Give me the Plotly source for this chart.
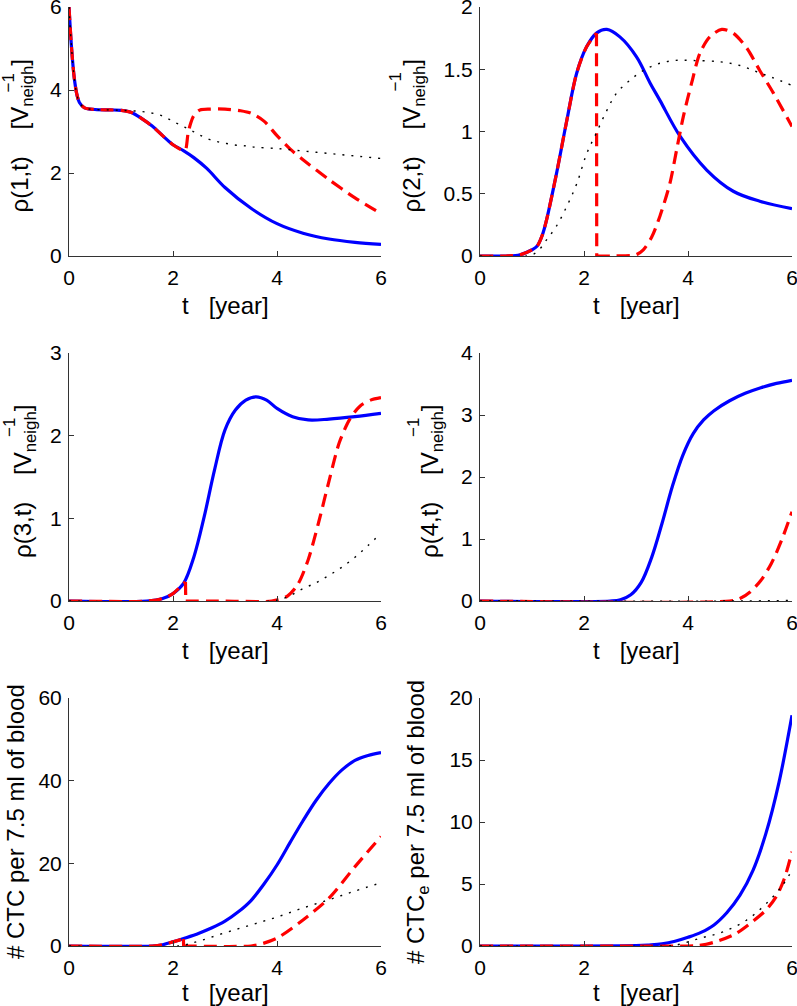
import plotly.graph_objects as go

# ---------------- data ----------------
# Panel 1: rho(1,t)
p1_blue_t = [0, 0.05, 0.1, 0.15, 0.2, 0.3, 0.5, 0.8, 1.0, 1.2, 1.4, 1.6, 1.8, 2.0, 2.2, 2.4, 2.65, 3.0, 3.5, 4.0, 4.5, 5.0, 5.5, 6.0]
p1_blue_v = [6.0, 5.0, 4.3, 3.9, 3.7, 3.57, 3.53, 3.52, 3.51, 3.46, 3.31, 3.13, 2.90, 2.68, 2.54, 2.37, 2.11, 1.65, 1.15, 0.78, 0.55, 0.41, 0.33, 0.28]
p1_red_t = [0, 0.05, 0.1, 0.15, 0.2, 0.3, 0.5, 0.8, 1.0, 1.2, 1.4, 1.6, 1.8, 2.0, 2.2, 2.24, 2.29, 2.34, 2.39, 2.45, 2.52, 2.7, 3.0, 3.3, 3.5, 3.75, 4.0, 4.25, 4.5, 5.0, 5.5, 6.0]
p1_red_v = [6.0, 5.0, 4.3, 3.9, 3.7, 3.57, 3.53, 3.52, 3.51, 3.46, 3.31, 3.13, 2.90, 2.68, 2.54, 2.56, 2.96, 3.20, 3.36, 3.46, 3.52, 3.54, 3.54, 3.50, 3.44, 3.25, 2.90, 2.58, 2.32, 1.84, 1.40, 1.02]
p1_dot_t = [0, 0.05, 0.1, 0.15, 0.2, 0.3, 0.5, 0.8, 1.0, 1.2, 1.4, 1.57, 1.74, 1.89, 2.04, 2.2, 2.36, 2.52, 2.7, 2.87, 3.03, 3.22, 3.42, 3.6, 4.0, 4.5, 5.0, 5.5, 6.0]
p1_dot_v = [6.0, 5.0, 4.3, 3.9, 3.7, 3.57, 3.53, 3.52, 3.51, 3.50, 3.48, 3.45, 3.40, 3.32, 3.22, 3.12, 3.02, 2.91, 2.81, 2.75, 2.71, 2.67, 2.65, 2.62, 2.59, 2.53, 2.47, 2.41, 2.35]

# Panel 2: rho(2,t)
p2_blue_t = [0, 0.5, 0.77, 1.0, 1.1, 1.2, 1.28, 1.47, 1.67, 1.86, 2.05, 2.24, 2.44, 2.69, 3.01, 3.27, 3.46, 3.85, 4.36, 4.87, 5.38, 6.0]
p2_blue_v = [0, 0, 0.01, 0.05, 0.08, 0.17, 0.29, 0.66, 1.09, 1.47, 1.68, 1.79, 1.82, 1.76, 1.60, 1.39, 1.25, 0.96, 0.69, 0.52, 0.44, 0.38]
p2_red_t = [0, 0.5, 0.77, 1.0, 1.1, 1.2, 1.28, 1.47, 1.67, 1.86, 2.05, 2.24, 2.245, 2.6, 3.0, 3.14, 3.3, 3.46, 3.65, 3.78, 3.91, 4.07, 4.23, 4.42, 4.65, 4.87, 5.13, 5.38, 5.64, 6.0]
p2_red_v = [0, 0, 0.01, 0.05, 0.08, 0.17, 0.29, 0.66, 1.09, 1.47, 1.68, 1.79, 0, 0, 0.01, 0.05, 0.15, 0.32, 0.58, 0.85, 1.12, 1.39, 1.63, 1.76, 1.82, 1.79, 1.67, 1.49, 1.31, 1.04]
p2_dot_t = [0, 0.9, 1.09, 1.28, 1.47, 1.67, 1.86, 2.05, 2.24, 2.44, 2.63, 2.88, 3.14, 3.4, 3.72, 4.1, 4.62, 5.0, 5.32, 5.64, 6.0]
p2_dot_v = [0, 0, 0.03, 0.13, 0.24, 0.40, 0.58, 0.82, 0.99, 1.17, 1.31, 1.41, 1.49, 1.54, 1.57, 1.57, 1.56, 1.53, 1.48, 1.43, 1.37]

# Panel 3: rho(3,t)
p3_blue_t = [0, 1.5, 1.8, 2.0, 2.2, 2.4, 2.6, 2.8, 3.0, 3.2, 3.4, 3.6, 3.8, 4.0, 4.3, 4.6, 5.0, 5.5, 6.0]
p3_blue_v = [0, 0, 0.03, 0.09, 0.21, 0.53, 1.02, 1.59, 2.07, 2.31, 2.43, 2.47, 2.43, 2.33, 2.23, 2.19, 2.20, 2.23, 2.27]
p3_red_t = [0, 1.5, 1.8, 2.0, 2.2, 2.24, 2.245, 3.0, 3.9, 4.2, 4.4, 4.6, 4.8, 5.0, 5.2, 5.4, 5.6, 5.8, 6.0]
p3_red_v = [0, 0, 0.03, 0.09, 0.21, 0.23, 0, 0, 0, 0.06, 0.20, 0.50, 0.95, 1.45, 1.92, 2.20, 2.36, 2.43, 2.46]
p3_dot_t = [0, 3.9, 4.2, 4.5, 4.75, 5.0, 5.25, 5.5, 5.75, 6.0]
p3_dot_v = [0, 0, 0.05, 0.15, 0.22, 0.31, 0.41, 0.53, 0.67, 0.82]

# Panel 4: rho(4,t)
p4_blue_t = [0, 2.5, 2.7, 2.9, 3.1, 3.3, 3.5, 3.7, 3.9, 4.1, 4.3, 4.5, 4.8, 5.1, 5.4, 5.7, 6.0]
p4_blue_v = [0, 0, 0.02, 0.1, 0.3, 0.7, 1.25, 1.85, 2.35, 2.7, 2.92, 3.07, 3.23, 3.35, 3.44, 3.51, 3.56]
p4_red_t = [0, 4.8, 5.0, 5.2, 5.4, 5.6, 5.8, 6.0]
p4_red_v = [0, 0, 0.04, 0.15, 0.33, 0.6, 0.98, 1.44]
p4_dot_t = [0, 5.0, 6.0]
p4_dot_v = [0, 0, 0.01]

# Panel 5: # CTC per 7.5 ml of blood
p5_blue_t = [0, 1.6, 1.8, 2.0, 2.25, 2.5, 2.75, 3.0, 3.25, 3.5, 3.75, 4.0, 4.25, 4.5, 4.75, 5.0, 5.25, 5.5, 5.75, 6.0]
p5_blue_v = [0, 0, 0.3, 1.0, 2.0, 3.1, 4.4, 6.0, 8.2, 11.0, 15.0, 19.6, 25.0, 30.3, 35.2, 39.3, 42.6, 44.9, 46.1, 46.8]
p5_red_t = [0, 1.6, 1.8, 2.0, 2.2, 2.205, 3.5, 3.7, 4.0, 4.5, 5.0, 5.5, 6.0]
p5_red_v = [0, 0, 0.3, 1.0, 1.7, 0, 0, 0.5, 1.9, 6.3, 11.6, 19.2, 26.5]
p5_dot_t = [0, 2.1, 2.5, 3.0, 3.5, 4.0, 4.5, 5.0, 5.5, 6.0]
p5_dot_v = [0, 0, 1.2, 3.2, 5.1, 7.0, 9.2, 11.2, 13.3, 15.3]

# Panel 6: # CTC_e per 7.5 ml of blood
p6_blue_t = [0, 3.0, 3.25, 3.5, 3.75, 4.0, 4.25, 4.5, 4.75, 5.0, 5.25, 5.5, 5.75, 6.0]
p6_blue_v = [0, 0.03, 0.08, 0.17, 0.38, 0.7, 1.1, 1.7, 2.7, 4.1, 6.1, 9.1, 13.2, 18.6]
p6_red_t = [0, 3.9, 4.2, 4.5, 4.9, 5.25, 5.5, 5.7, 5.85, 6.0]
p6_red_v = [0, 0, 0.03, 0.3, 0.95, 2.0, 2.9, 4.0, 5.4, 7.6]
p6_dot_t = [0, 3.6, 3.78, 4.23, 4.68, 5.13, 5.51, 5.8, 6.0]
p6_dot_v = [0, 0, 0.08, 0.62, 1.15, 2.1, 3.44, 4.8, 6.1]

x_ticks = [0, 2, 4, 6]
y_ranges = [[0, 6], [0, 2], [0, 3], [0, 4], [0, 60], [0, 20]]
y_ticks = [[0, 2, 4, 6], [0, 0.5, 1, 1.5, 2], [0, 1, 2, 3], [0, 1, 2, 3, 4], [0, 20, 40, 60], [0, 5, 10, 15, 20]]
y_tick_text = [["0", "2", "4", "6"], ["0", "0.5", "1", "1.5", "2"], ["0", "1", "2", "3"],
               ["0", "1", "2", "3", "4"], ["0", "20", "40", "60"], ["0", "5", "10", "15", "20"]]
x_title = "t\u00a0\u00a0\u00a0[year]"
y_titles = ["\u03c1(1,t)\u00a0\u00a0\u00a0\u00a0[V<sub>neigh</sub>]",
            "\u03c1(2,t)\u00a0\u00a0\u00a0\u00a0[V<sub>neigh</sub>]",
            "\u03c1(3,t)\u00a0\u00a0\u00a0\u00a0[V<sub>neigh</sub>]",
            "\u03c1(4,t)\u00a0\u00a0\u00a0\u00a0[V<sub>neigh</sub>]",
            "# CTC per 7.5 ml of blood",
            "# CTC<sub>e</sub> per 7.5 ml of blood"]

series = [
    (p1_blue_t, p1_blue_v, p1_red_t, p1_red_v, p1_dot_t, p1_dot_v),
    (p2_blue_t, p2_blue_v, p2_red_t, p2_red_v, p2_dot_t, p2_dot_v),
    (p3_blue_t, p3_blue_v, p3_red_t, p3_red_v, p3_dot_t, p3_dot_v),
    (p4_blue_t, p4_blue_v, p4_red_t, p4_red_v, p4_dot_t, p4_dot_v),
    (p5_blue_t, p5_blue_v, p5_red_t, p5_red_v, p5_dot_t, p5_dot_v),
    (p6_blue_t, p6_blue_v, p6_red_t, p6_red_v, p6_dot_t, p6_dot_v),
]

# ---------------- layout geometry (pixels) ----------------
W, H = 797, 1006
col_x = [(69, 381), (480, 792)]
row_y = [(7, 256), (353, 601), (698, 946)]
xtitle_off = [49, 49, 49, 49, 46, 46]
ytitle_x = [21, 413, 24, 431, 15, 417]
ytitle_dy = [5, 5, 5, 5, 0, 0]
sup_x = [8, 395, 9, 413, None, None]

FONT = "Liberation Sans, Arial, Helvetica, sans-serif"
AX = "#333333"
BLUE = dict(color="#0000ff", width=3.2)
RED = dict(color="#ff0000", width=3.2, dash="13px,7px")
DOT = dict(color="black", width=1.4, dash="2px,7px")


def split_at_jumps(t, v):
    """Split a series where it jumps vertically (consecutive t almost equal)."""
    pieces, start = [], 0
    for k in range(len(t) - 1):
        if t[k + 1] - t[k] < 0.02:
            pieces.append(("spline", t[start:k + 1], v[start:k + 1]))
            pieces.append(("linear", t[k:k + 2], v[k:k + 2]))
            start = k + 1
    pieces.append(("spline", t[start:], v[start:]))
    return pieces


fig = go.Figure()
layout = dict(width=W, height=H, margin=dict(l=0, r=0, t=0, b=0, pad=0), autosize=False,
              paper_bgcolor="white", plot_bgcolor="white", showlegend=False,
              font=dict(family=FONT, color="black"))
annotations = []

for i, (bt, bv, rt, rv, dt, dv) in enumerate(series):
    r, c = divmod(i, 2)
    n = i + 1
    xa = "x" if n == 1 else f"x{n}"
    ya = "y" if n == 1 else f"y{n}"
    common = dict(xaxis=xa, yaxis=ya, mode="lines", hoverinfo="skip", cliponaxis=False)
    fig.add_trace(go.Scatter(x=bt, y=bv, line=dict(**BLUE, shape="spline", smoothing=1.0), **common))
    for shape, pt, pv in split_at_jumps(rt, rv):
        if len(pt) < 2:
            continue
        fig.add_trace(go.Scatter(x=pt, y=pv, line=dict(**RED, shape=shape, smoothing=0.8), **common))
    fig.add_trace(go.Scatter(x=dt, y=dv, line=dict(**DOT, shape="spline", smoothing=1.0), **common))

    x0, x1 = col_x[c]
    y0, y1 = row_y[r]
    axis_common = dict(showline=True, linecolor=AX, linewidth=1, ticks="inside", ticklen=5,
                       tickcolor=AX, tickwidth=1, showgrid=False, zeroline=False, mirror=False,
                       automargin=False, ticklabeloverflow="allow",
                       tickfont=dict(family=FONT, size=21, color="black"))
    layout["xaxis" if n == 1 else f"xaxis{n}"] = dict(
        domain=[x0 / W, x1 / W], range=[0, 6], tickvals=x_ticks, anchor=ya,
        ticklabelstandoff=3, **axis_common)
    layout["yaxis" if n == 1 else f"yaxis{n}"] = dict(
        domain=[1 - y1 / H, 1 - y0 / H], range=y_ranges[i], tickvals=y_ticks[i],
        ticktext=y_tick_text[i], anchor=xa, ticklabelstandoff=2, **axis_common)

    # x title
    annotations.append(dict(text=x_title, xref="paper", yref="paper",
                            x=((x0 + x1) / 2) / W, y=1 - (y1 + xtitle_off[i]) / H,
                            xanchor="center", yanchor="middle", showarrow=False,
                            font=dict(family=FONT, size=24, color="black")))
    # y title
    yc = (y0 + y1) / 2
    annotations.append(dict(text=y_titles[i], xref="paper", yref="paper",
                            x=ytitle_x[i] / W, y=1 - (yc + ytitle_dy[i]) / H, textangle=-90,
                            xanchor="center", yanchor="middle", showarrow=False,
                            font=dict(family=FONT, size=24, color="black")))
    if sup_x[i] is not None:
        annotations.append(dict(text="\u22121", xref="paper", yref="paper",
                                x=sup_x[i] / W, y=1 - (yc - 49) / H, textangle=-90,
                                xanchor="center", yanchor="middle", showarrow=False,
                                font=dict(family=FONT, size=17, color="black")))

layout["annotations"] = annotations
fig.update_layout(**layout)
fig.write_html("out.html", config={"displayModeBar": False, "staticPlot": True},
               post_script="document.body.style.margin='0';document.body.style.overflow='hidden';")
